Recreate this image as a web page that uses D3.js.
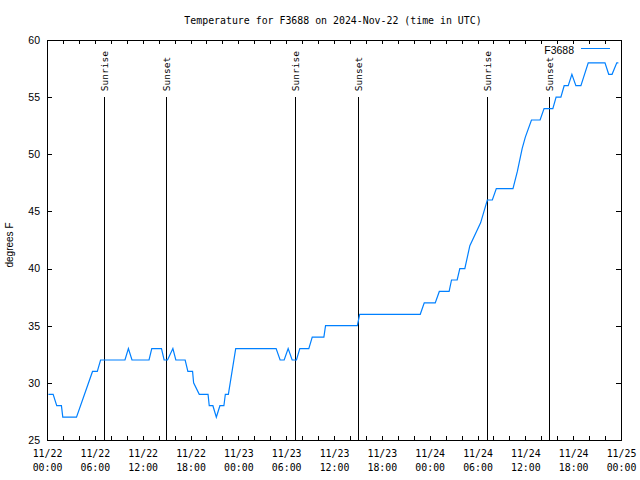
<!DOCTYPE html>
<html><head><meta charset="utf-8">
<script src="https://cdn.jsdelivr.net/npm/d3@7"></script>
<style>
body{margin:0;background:#fff;}
svg{display:block;}
.mono{font-family:"DejaVu Sans Mono",monospace;}
.sans{font-family:"Liberation Sans",Arial,sans-serif;}
</style></head>
<body>
<svg id="chart" width="640" height="480"></svg>
<script>
// ---- data ----
const titleText = "Temperature for F3688 on 2024-Nov-22 (time in UTC)";
const seriesName = "F3688";
const yLabel = "degrees F";
// hours since 2024-11-22 00:00 UTC
const hours = [0.18,0.77,1.22,1.81,1.98,3.70,5.71,6.31,6.72,9.78,10.21,10.66,12.80,13.14,14.36,14.69,15.12,15.79,16.16,17.33,17.67,18.26,18.39,19.10,20.2,20.35,20.81,21.24,21.69,22.19,22.37,22.75,23.67,28.74,29.24,29.75,30.25,30.75,31.29,31.71,32.84,33.27,34.73,34.94,38.93,39.22,46.82,47.32,48.70,49.21,50.44,50.74,51.45,51.78,52.41,53.04,54.39,55.23,55.86,56.36,58.45,59.0,59.6,60.0,60.77,61.85,62.35,63.45,63.86,64.46,64.87,65.38,65.84,66.34,66.97,67.89,69.99,70.46,70.88,71.47,71.67];
const temps = [29,29,28,28,27,27,31,31,32,32,33,32,32,33,33,32,32,33,32,32,31,31,30,29,29,28,28,27,28,28,29,29,33,33,32,32,33,32,32,33,33,34,34,35,35,36,36,37,37,38,38,39,39,40,40,42,44,46,46,47,47,48.5,50.5,51.5,53,53,54,54,55,55,56,56,57,56,56,58,58,57,57,58,58];
const sunriseHours = [7.25, 31.22, 55.31];
const sunsetHours = [15.03, 39.12, 63.09];
const xMajorHours = [0,6,12,18,24,30,36,42,48,54,60,66,72];
const xTickDates = ["11/22","11/22","11/22","11/22","11/23","11/23","11/23","11/23","11/24","11/24","11/24","11/24","11/25"];
const xTickTimes = ["00:00","06:00","12:00","18:00","00:00","06:00","12:00","18:00","00:00","06:00","12:00","18:00","00:00"];
const xMinorHours = d3.range(0, 73, 2);
const yTicks = [25,30,35,40,45,50,55,60];
const markerTop = 55;

// ---- layout ----
const L = 47, R = 621, T = 40, B = 440;
const svg = d3.select("#chart");
const x = d3.scaleLinear().domain([0,72]).range([L,R]);
const y = d3.scaleLinear().domain([25,60]).range([B,T]);
const color = "#0080ff";

// title
svg.append("text").attr("class","mono").attr("x",333).attr("y",24)
  .attr("text-anchor","middle").attr("font-size","9.9px").text(titleText);

// y label
svg.append("text").attr("class","sans").attr("font-size","10px")
  .attr("transform","translate(13,245) rotate(-90)").attr("text-anchor","middle").text(yLabel);

// axes
svg.append("g").attr("transform",`translate(0,${B})`)
  .call(d3.axisBottom(x).tickValues(xMinorHours).tickSize(-4).tickFormat(""));
const gBmaj = svg.append("g").attr("transform",`translate(0,${B})`)
  .call(d3.axisBottom(x).tickValues(xMajorHours).tickSize(-4).tickPadding(8).tickFormat(""));
gBmaj.selectAll(".tick text").each(function(d,i){
  const t = d3.select(this).attr("class","mono").attr("font-size","9.9px").attr("fill","#000").attr("dy",null).attr("y",null);
  t.append("tspan").attr("x",0).attr("y",17).text(xTickDates[i]);
  t.append("tspan").attr("x",0).attr("y",31).text(xTickTimes[i]);
});
svg.append("g").attr("transform",`translate(0,${T})`)
  .call(d3.axisTop(x).tickValues(xMinorHours).tickSize(-4).tickFormat(""));
const gL = svg.append("g").attr("transform",`translate(${L},0)`)
  .call(d3.axisLeft(y).tickValues(yTicks).tickSize(-5).tickPadding(7));
gL.selectAll(".tick text").attr("class","sans").attr("font-size","10.5px").attr("fill","#000");
svg.append("g").attr("transform",`translate(${R},0)`)
  .call(d3.axisRight(y).tickValues(yTicks).tickSize(-5).tickFormat(""));
svg.selectAll(".domain").remove();
svg.selectAll(".tick line").attr("stroke","#000").attr("shape-rendering","crispEdges");

// border
svg.append("rect").attr("x",L).attr("y",T).attr("width",R-L).attr("height",B-T)
  .attr("fill","none").attr("stroke","#000").attr("shape-rendering","crispEdges");

// sunrise / sunset markers
const markers = sunriseHours.map(h=>({h,label:"Sunrise"})).concat(sunsetHours.map(h=>({h,label:"Sunset"})));
markers.forEach(m=>{
  svg.append("line").attr("x1",x(m.h)).attr("x2",x(m.h)).attr("y1",y(25)).attr("y2",y(markerTop))
    .attr("stroke","#000").attr("shape-rendering","crispEdges");
  svg.append("text").attr("class","mono").attr("font-size","9.5px")
    .attr("transform",`translate(${x(m.h)},${y(markerTop)-6}) rotate(-90)`)
    .attr("dy","0.35em").attr("text-anchor","start").text(m.label);
});

// data line
const pts = hours.map((h,i)=>[h,temps[i]]);
svg.append("path").datum(pts).attr("fill","none").attr("stroke",color).attr("stroke-width",1.2)
  .attr("d", d3.line().x(d=>x(d[0])).y(d=>y(d[1])));

// legend
svg.append("text").attr("class","sans").attr("font-size","10.5px").attr("x",574).attr("y",53.5)
  .attr("text-anchor","end").text(seriesName);
svg.append("line").attr("x1",581).attr("x2",610).attr("y1",48.5).attr("y2",48.5)
  .attr("stroke",color).attr("stroke-width",1);
</script>
</body></html>
